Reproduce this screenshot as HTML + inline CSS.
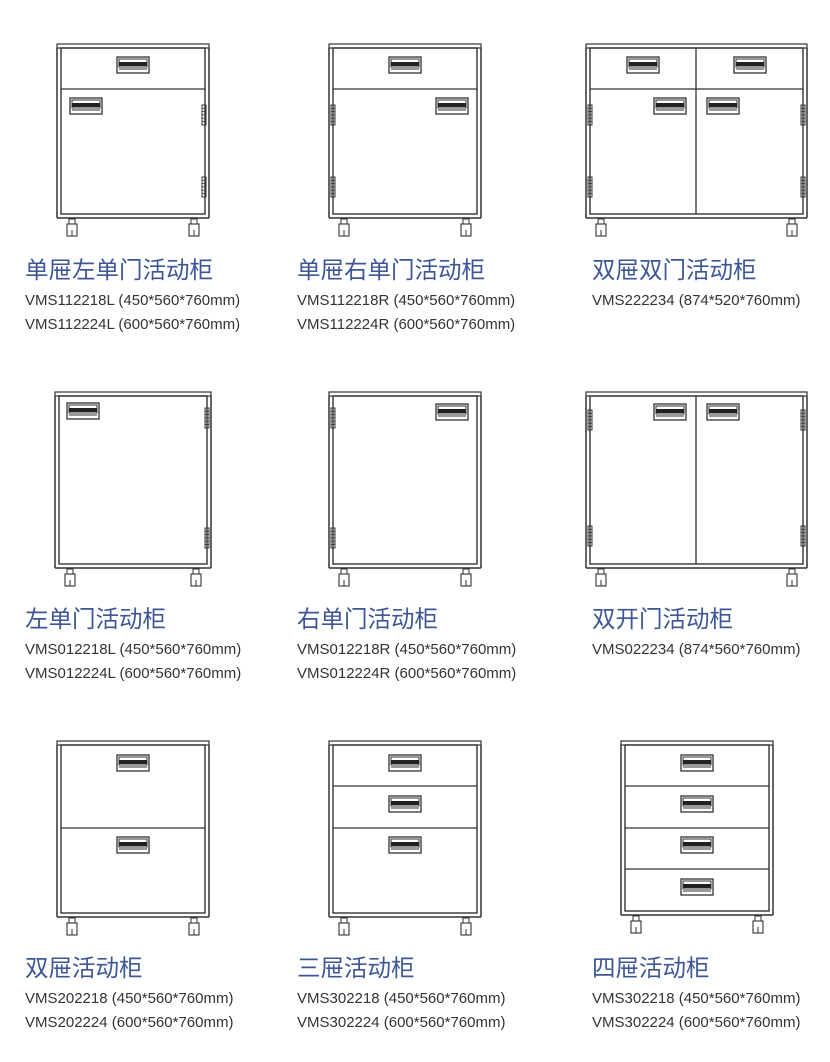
<!DOCTYPE html>
<html><head><meta charset="utf-8">
<style>
body{margin:0;background:#fff;width:830px;height:1062px;overflow:hidden;position:relative}
svg{position:absolute;left:0;top:0}
.t{position:absolute;font-family:"Liberation Sans","Noto Sans CJK SC",sans-serif;color:#3d5697;font-size:23.5px;line-height:26px;white-space:nowrap}
.s{position:absolute;font-family:"Liberation Sans","Noto Sans CJK SC",sans-serif;color:#333;font-size:15px;line-height:18px;white-space:nowrap}
</style></head><body>
<svg id="g" width="830" height="1062" xmlns="http://www.w3.org/2000/svg"></svg>
<script>
var g=document.getElementById('g'),o='';
function R(x,y,w,h,sw,f){o+='<rect x="'+x+'" y="'+y+'" width="'+w+'" height="'+h+'" fill="'+(f||'none')+'" stroke="#333" stroke-width="'+(sw||1.3)+'"/>';}
function L(x1,y1,x2,y2,sw){o+='<line x1="'+x1+'" y1="'+y1+'" x2="'+x2+'" y2="'+y2+'" stroke="#333" stroke-width="'+(sw||1.3)+'"/>';}
function H(x,y){R(x,y,32,16,1.3,'#fff');R(x+2,y+2,28,8,1);o+='<rect x="'+(x+2)+'" y="'+(y+5)+'" width="28" height="4" fill="#222"/>';L(x+2,y+12,x+30,y+12,1);}
function HG(x,y){R(x,y,4,20,1);for(var i=1;i<6;i++)L(x,y+i*3.3,x+4,y+i*3.3,0.8);}
function C(x,y){R(x-3,y,6,5,1);R(x-5,y+5,10,12,1.1);L(x,y+11,x,y+17,1);}
function cab(x1,x2,top,bot,divs,handles,hinges){
 R(x1,top,x2-x1,4,1.2);
 L(x1,top+4,x1,bot,1.5);L(x2,top+4,x2,bot,1.5);L(x1,bot,x2,bot,1.5);
 R(x1+4,top+4,x2-x1-8,bot-top-8,1.4);
 divs.forEach(function(d){if(d[0]=='h')L(x1+4,d[1],x2-4,d[1],1.3);else L(d[1],d[2],d[1],bot-4,1.3);});
 handles.forEach(function(h){H(h[0],h[1]);});
 hinges.forEach(function(h){HG(h[0],h[1]);});
 C(x1+15,bot+1);C(x2-15,bot+1);
}
cab(57,209,44,218,[['h',89]],[[117,57],[70,98]],[[202,105],[202,177]]);
cab(329,481,44,218,[['h',89]],[[389,57],[436,98]],[[331,105],[331,177]]);
cab(586,807,44,218,[['h',89],['v',696,48]],[[627,57],[734,57],[654,98],[707,98]],[[588,105],[588,177],[801,105],[801,177]]);
cab(55,211,392,568,[],[[67,403]],[[205,408],[205,528]]);
cab(329,481,392,568,[],[[436,404]],[[331,408],[331,528]]);
cab(586,807,392,568,[['v',696,396]],[[654,404],[707,404]],[[588,410],[588,526],[801,410],[801,526]]);
cab(57,209,741,917,[['h',828]],[[117,755],[117,837]],[]);
cab(329,481,741,917,[['h',786],['h',828]],[[389,755],[389,796],[389,837]],[]);
cab(621,773,741,915,[['h',786],['h',828],['h',869]],[[681,755],[681,796],[681,837],[681,879]],[]);
g.innerHTML=o;
</script>
<div class="t" style="left:25px;top:257px">单屉左单门活动柜</div>
<div class="s" style="left:25px;top:292px">VMS112218L (450*560*760mm)</div>
<div class="s" style="left:25px;top:316px">VMS112224L (600*560*760mm)</div>
<div class="t" style="left:297px;top:257px">单屉右单门活动柜</div>
<div class="s" style="left:297px;top:292px">VMS112218R (450*560*760mm)</div>
<div class="s" style="left:297px;top:316px">VMS112224R (600*560*760mm)</div>
<div class="t" style="left:592px;top:257px">双屉双门活动柜</div>
<div class="s" style="left:592px;top:292px">VMS222234 (874*520*760mm)</div>
<div class="t" style="left:25px;top:606px">左单门活动柜</div>
<div class="s" style="left:25px;top:641px">VMS012218L (450*560*760mm)</div>
<div class="s" style="left:25px;top:665px">VMS012224L (600*560*760mm)</div>
<div class="t" style="left:297px;top:606px">右单门活动柜</div>
<div class="s" style="left:297px;top:641px">VMS012218R (450*560*760mm)</div>
<div class="s" style="left:297px;top:665px">VMS012224R (600*560*760mm)</div>
<div class="t" style="left:592px;top:606px">双开门活动柜</div>
<div class="s" style="left:592px;top:641px">VMS022234 (874*560*760mm)</div>
<div class="t" style="left:25px;top:955px">双屉活动柜</div>
<div class="s" style="left:25px;top:990px">VMS202218 (450*560*760mm)</div>
<div class="s" style="left:25px;top:1014px">VMS202224 (600*560*760mm)</div>
<div class="t" style="left:297px;top:955px">三屉活动柜</div>
<div class="s" style="left:297px;top:990px">VMS302218 (450*560*760mm)</div>
<div class="s" style="left:297px;top:1014px">VMS302224 (600*560*760mm)</div>
<div class="t" style="left:592px;top:955px">四屉活动柜</div>
<div class="s" style="left:592px;top:990px">VMS302218 (450*560*760mm)</div>
<div class="s" style="left:592px;top:1014px">VMS302224 (600*560*760mm)</div>
</body></html>
